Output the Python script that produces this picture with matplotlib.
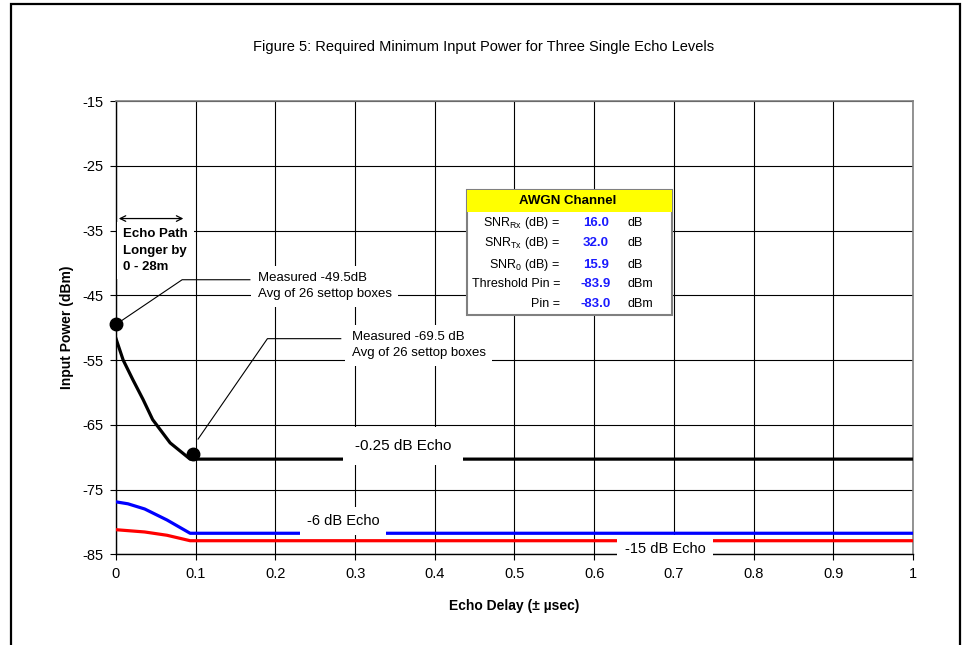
import matplotlib
matplotlib.use("Agg")
import matplotlib.pyplot as plt
from matplotlib.patches import Rectangle

plt.rcParams['font.family'] = ['Liberation Sans', 'DejaVu Sans']
plt.rcParams['axes.unicode_minus'] = False

# Curvas de potencia minima para cada nivel de eco
delay_025 = [0, 0.009, 0.021, 0.034, 0.046, 0.068, 0.093, 1.0]
pin_025 = [-51.7, -55.0, -58.0, -61.1, -64.2, -67.8, -70.3, -70.3]

delay_6 = [0, 0.015, 0.036, 0.064, 0.093, 1.0]
pin_6 = [-76.9, -77.2, -78.0, -79.7, -81.75, -81.75]

delay_15 = [0, 0.036, 0.064, 0.093, 1.0]
pin_15 = [-81.2, -81.55, -82.06, -82.9, -82.9]

# Puntos medidos (promedio de 26 decodificadores)
meas_delay = [0, 0.097]
meas_pin = [-49.5, -69.5]

# Tabla del canal AWGN
awgn_labels = [r'SNR$_{\mathregular{Rx}}$ (dB) =', r'SNR$_{\mathregular{Tx}}$ (dB) =',
               r'SNR$_{\mathregular{0}}$ (dB) =', 'Threshold Pin =', 'Pin =']
awgn_values = ['16.0', '32.0', '15.9', '-83.9', '-83.0']
awgn_units = ['dB', 'dB', 'dB', 'dBm', 'dBm']

yticks = [-15, -25, -35, -45, -55, -65, -75, -85]
xticks = [0, 0.1, 0.2, 0.3, 0.4, 0.5, 0.6, 0.7, 0.8, 0.9, 1]
xticklabels = ['0', '0.1', '0.2', '0.3', '0.4', '0.5', '0.6', '0.7', '0.8', '0.9', '1']

fig = plt.figure(figsize=(9.69, 6.45), dpi=100)
ax = fig.add_axes([0.1197, 0.1406, 0.8225, 0.7028])

ax.plot(delay_025, pin_025, color='black', lw=2.3, zorder=3)
ax.plot(delay_6, pin_6, color='#0000ff', lw=2.3, zorder=3)
ax.plot(delay_15, pin_15, color='#ff0000', lw=2.3, zorder=3)
ax.plot(meas_delay, meas_pin, 'o', color='black', markersize=9, zorder=6, clip_on=False)

ax.set_xlim(0, 1)
ax.set_ylim(-85, -15)
ax.set_xticks(xticks)
ax.set_xticklabels(xticklabels)
ax.set_yticks(yticks)
ax.tick_params(direction='out', length=4, width=0.8, labelsize=10.5, pad=5)
ax.grid(True, color='black', lw=0.8)
ax.set_axisbelow(True)
for s in ['top', 'right']:
    ax.spines[s].set_color('#808080')
    ax.spines[s].set_linewidth(1.2)
for s in ['left', 'bottom']:
    ax.spines[s].set_linewidth(1.0)

ax.set_xlabel('Echo Delay (± µsec)', fontsize=10, fontweight='bold', labelpad=13)
ax.set_ylabel('Input Power (dBm)', fontsize=10, fontweight='bold', labelpad=6)
fig.text(0.4995, 0.927, 'Figure 5: Required Minimum Input Power for Three Single Echo Levels',
         ha='center', va='center', fontsize=10.5)

# Etiquetas de las curvas con fondo blanco
ax.text(0.36, -68.3, '-0.25 dB Echo', ha='center', va='center', fontsize=11, zorder=5,
        bbox=dict(boxstyle='square,pad=0.8', fc='white', ec='none'))
ax.text(0.285, -79.85, '-6 dB Echo', ha='center', va='center', fontsize=10.5, zorder=5,
        bbox=dict(boxstyle='square,pad=0.45', fc='white', ec='none'))
ax.text(0.689, -84.2, '-15 dB Echo', ha='center', va='center', fontsize=10.5, zorder=5,
        clip_on=False, bbox=dict(boxstyle='square,pad=0.5', fc='white', ec='none'))

# Lineas guia hacia los puntos medidos
ax.plot([meas_delay[0], 0.083, 0.168], [meas_pin[0], -42.6, -42.6], color='black', lw=0.8, zorder=4)
ax.text(0.178, -43.6, 'Measured -49.5dB\nAvg of 26 settop boxes', ha='left', va='center',
        fontsize=9.5, linespacing=1.4, zorder=5,
        bbox=dict(boxstyle='square,pad=0.5', fc='white', ec='none'))
ax.plot([meas_delay[1] + 0.006, 0.19, 0.282], [meas_pin[1] + 2.3, -51.7, -51.7], color='black', lw=0.8, zorder=4)
ax.text(0.296, -52.7, 'Measured -69.5 dB\nAvg of 26 settop boxes', ha='left', va='center',
        fontsize=9.5, linespacing=1.4, zorder=5,
        bbox=dict(boxstyle='square,pad=0.5', fc='white', ec='none'))

# Longitud del trayecto del eco
ax.text(0.009, -38.1, 'Echo Path\nLonger by\n0 - 28m', ha='left', va='center', fontsize=9.5,
        fontweight='bold', linespacing=1.5, zorder=5,
        bbox=dict(boxstyle='square,pad=0.45', fc='white', ec='none'))
ax.annotate('', xy=(0.0, -33.15), xytext=(0.088, -33.15),
            arrowprops=dict(arrowstyle='<->', color='black', lw=0.9), zorder=6)

# Cuadro AWGN
x0, x1 = 0.440, 0.698
ytop, ybot, yhead = -28.7, -48.0, -32.2
ax.add_patch(Rectangle((x0, ybot), x1 - x0, ytop - ybot, fc='white', ec='#808080', lw=1.5, zorder=7))
ax.add_patch(Rectangle((x0, yhead), x1 - x0, ytop - yhead, fc='#ffff00', ec='none', zorder=7))
ax.text(0.567, -30.5, 'AWGN Channel', ha='center', va='center', fontsize=9.5, fontweight='bold', zorder=8)
row_y = [-33.8, -37.0, -40.4, -43.2, -46.3]
for yy, lab, val, unit in zip(row_y, awgn_labels, awgn_values, awgn_units):
    ax.text(0.557, yy, lab, ha='right', va='center', fontsize=9, zorder=8)
    ax.text(0.602, yy, val, ha='center', va='center', fontsize=9.5, fontweight='bold',
            color='#1a1aff', zorder=8)
    ax.text(0.642, yy, unit, ha='left', va='center', fontsize=9, zorder=8)

# Marco exterior
fig.add_artist(Rectangle((11 / 969, -0.05), (960 - 11) / 969, 1.05 - 4 / 645,
                         transform=fig.transFigure, fc='none', ec='black', lw=1.6))

fig.savefig('out.png', dpi=100)
